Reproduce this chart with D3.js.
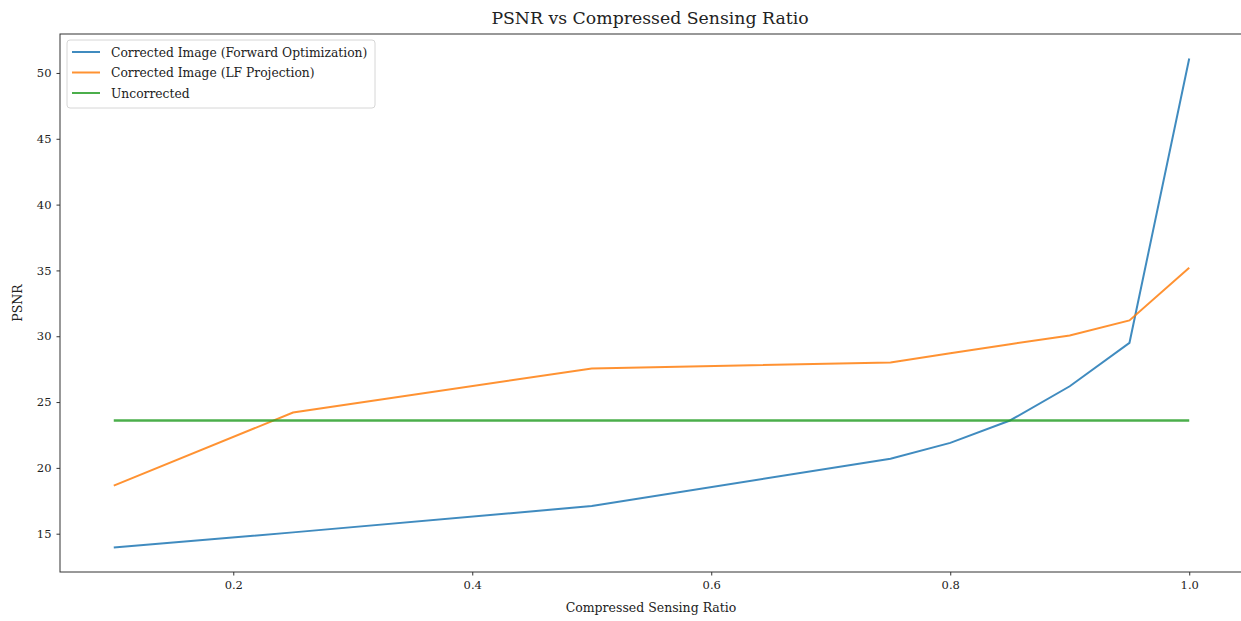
<!DOCTYPE html>
<html><head><meta charset="utf-8">
<script src="https://cdn.jsdelivr.net/npm/d3@7"></script>
<style>body{margin:0;background:#fff;} text{font-family:"DejaVu Serif","Liberation Serif",serif;fill:#222;}</style>
</head><body>
<svg id="c" width="1241" height="621"></svg>
<script>
const ratios = [0.1, 0.25, 0.5, 0.75, 0.8, 0.85, 0.9, 0.95, 1.0];
const forwardOpt = [13.95, 15.1, 17.1, 20.7, 21.9, 23.6, 26.2, 29.5, 51.1];
const lfProjection = [18.65, 24.2, 27.55, 28.0, 28.7, 29.4, 30.05, 31.2, 35.2];
const uncorrected = [23.6, 23.6, 23.6, 23.6, 23.6, 23.6, 23.6, 23.6, 23.6];
const seriesNames = ["Corrected Image (Forward Optimization)", "Corrected Image (LF Projection)", "Uncorrected"];
const seriesColors = ["#1f77b4", "#ff7f0e", "#2ca02c"];
const xTicks = [0.2, 0.4, 0.6, 0.8, 1.0];
const yTicks = [15, 20, 25, 30, 35, 40, 45, 50];

const svg = d3.select("#c");
const L = 60, R = 1243, T = 34, B = 572;
const x = d3.scaleLinear().domain([0.055, 1.045]).range([L, R]);
const y = d3.scaleLinear().domain([12.09, 52.96]).range([B, T]);

const series = [forwardOpt, lfProjection, uncorrected];
const line = d3.line().x((d, i) => x(ratios[i])).y(d => y(d));
series.forEach((s, k) => {
  svg.append("path").attr("d", line(s)).attr("fill", "none")
    .attr("stroke", seriesColors[k]).attr("stroke-width", k === 2 ? 2.4 : 2).attr("stroke-opacity", 0.85);
});

// spines
svg.append("rect").attr("x", L).attr("y", T).attr("width", R - L).attr("height", B - T)
  .attr("fill", "none").attr("stroke", "#333").attr("stroke-width", 1);

const xa = svg.append("g").attr("transform", `translate(0,${B})`)
  .call(d3.axisBottom(x).tickValues(xTicks).tickFormat(d3.format(".1f")).tickSize(3.5).tickPadding(5));
const ya = svg.append("g").attr("transform", `translate(${L},0)`)
  .call(d3.axisLeft(y).tickValues(yTicks).tickFormat(d3.format("d")).tickSize(3.5).tickPadding(5));
[xa, ya].forEach(a => {
  a.select(".domain").remove();
  a.selectAll("line").attr("stroke", "#333");
  a.selectAll("text").style("font-family", '"DejaVu Serif",serif').style("font-size", "11.5px").attr("fill", "#333");
});

svg.append("text").attr("x", 650).attr("y", 24).attr("text-anchor", "middle")
  .style("font-size", "17.3px").text("PSNR vs Compressed Sensing Ratio");
svg.append("text").attr("x", 651).attr("y", 612).attr("text-anchor", "middle")
  .style("font-size", "12.5px").text("Compressed Sensing Ratio");
svg.append("text").attr("transform", "translate(22,303) rotate(-90)").attr("text-anchor", "middle")
  .style("font-size", "12.5px").text("PSNR");

// legend
const lg = svg.append("g").attr("transform", "translate(67,40)");
lg.append("rect").attr("width", 308).attr("height", 68).attr("rx", 3)
  .attr("fill", "#fff").attr("fill-opacity", 0.8).attr("stroke", "#d6d6d6");
seriesNames.forEach((n, i) => {
  const yy = 12 + i * 20.5;
  lg.append("line").attr("x1", 5).attr("x2", 33).attr("y1", yy).attr("y2", yy)
    .attr("stroke", seriesColors[i]).attr("stroke-width", 2).attr("stroke-opacity", 0.85);
  lg.append("text").attr("x", 44).attr("y", yy + 4.5).style("font-size", "12.3px").text(n);
});
</script>
</body></html>
